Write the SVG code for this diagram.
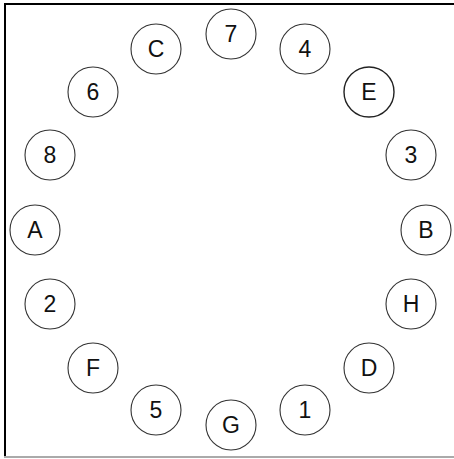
<svg xmlns="http://www.w3.org/2000/svg" width="454" height="459" viewBox="0 0 454 459">
<style>
.n circle{fill:#fff;stroke:#333;stroke-width:1.1}
.n text{font-family:"Liberation Sans",Arial,sans-serif;font-size:23px;fill:#111;text-anchor:middle}
</style>
<rect width="454" height="459" fill="#fff"/>
<g id="frame">
<line x1="4" y1="4" x2="454" y2="4" stroke="#000" stroke-width="2"/>
<line x1="5" y1="3" x2="5" y2="457" stroke="#000" stroke-width="2"/>
<line x1="4" y1="457" x2="454" y2="457" stroke="#aaa" stroke-width="2"/>
</g>
<g id="connectors"></g>
<g id="n7" class="n"><circle cx="231" cy="34" r="25"/><text x="231" y="42">7</text></g>
<g id="n4" class="n"><circle cx="305" cy="49" r="25"/><text x="305" y="57">4</text></g>
<g id="nE" class="n"><circle cx="369" cy="92" r="25" style="stroke:#222;stroke-width:1.4"/><text x="369" y="100">E</text></g>
<g id="n3" class="n"><circle cx="411" cy="155" r="25"/><text x="411" y="163">3</text></g>
<g id="nB" class="n"><circle cx="426" cy="230" r="25"/><text x="426" y="238">B</text></g>
<g id="nH" class="n"><circle cx="411" cy="304" r="25"/><text x="411" y="312">H</text></g>
<g id="nD" class="n"><circle cx="369" cy="368" r="25"/><text x="369" y="376">D</text></g>
<g id="n1" class="n"><circle cx="305" cy="410" r="25"/><text x="305" y="418">1</text></g>
<g id="nG" class="n"><circle cx="231" cy="425" r="25"/><text x="231" y="433">G</text></g>
<g id="n5" class="n"><circle cx="156" cy="410" r="25"/><text x="156" y="418">5</text></g>
<g id="nF" class="n"><circle cx="93" cy="368" r="25"/><text x="93" y="376">F</text></g>
<g id="n2" class="n"><circle cx="50" cy="304" r="25"/><text x="50" y="312">2</text></g>
<g id="nA" class="n"><circle cx="35" cy="230" r="25"/><text x="35" y="238">A</text></g>
<g id="n8" class="n"><circle cx="50" cy="155" r="25"/><text x="50" y="163">8</text></g>
<g id="n6" class="n"><circle cx="93" cy="92" r="25"/><text x="93" y="100">6</text></g>
<g id="nC" class="n"><circle cx="156" cy="49" r="25"/><text x="156" y="57">C</text></g>
</svg>
